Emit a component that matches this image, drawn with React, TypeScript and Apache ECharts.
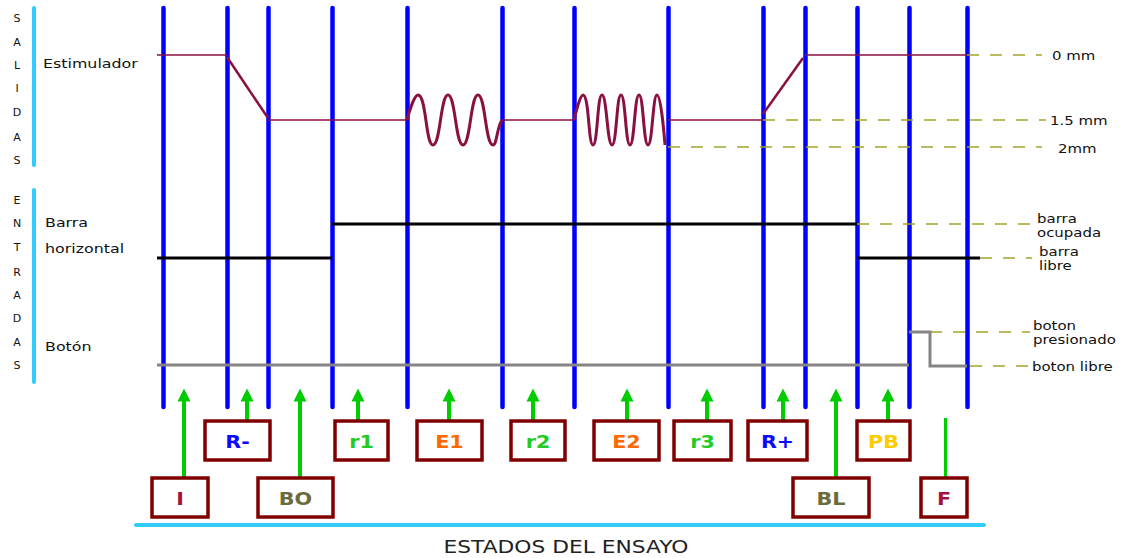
import React, { useEffect, useRef } from "react";
import * as echarts from "echarts";

// ---- data (diagram units = axis units) ----
const stageX = [163, 227, 268, 332, 407, 502, 574, 668, 763, 805, 857, 909, 967];
const stageSpan = [8, 407];

// Estimulador output (0 mm = 55, 1.5 mm = 120, 2 mm = 147)
const stimBase = [
  [[157, 55], [227, 55]],
  [[268, 120], [407, 120]],
  [[502, 120], [574, 120]],
  [[668, 120], [763, 120]],
  [[805, 55], [967, 55]],
];
const stimRamps = [
  [[227, 57], [268, 118]],
  [[763, 114], [803, 58]],
];
const stimE1 = [[407, 120], [418, 95], [433, 145], [448, 95], [463, 145], [478, 95], [493, 145], [500, 124], [502, 120]];
const stimE2 = [[574, 120], [583, 95], [593, 145], [602, 95], [612, 145], [621, 95], [630, 145], [639, 95], [648, 145], [657, 95], [665, 145]];

// Barra horizontal input (ocupada = 224, libre = 258)
const barraSegments = [
  [[157, 258], [332, 258]],
  [[332, 224], [857, 224]],
  [[857, 258], [980, 258]],
];
// Botón input (presionado = 332, libre = 365)
const botonSegments = [
  [[157, 365], [909, 365]],
  [[909, 332], [930, 332], [930, 366], [967, 366]],
];

// dashed reference levels
const refLines = [
  [[967, 55], [1042, 55]],
  [[763, 120], [1046, 120]],
  [[668, 147], [1042, 147]],
  [[857, 224], [1032, 224]],
  [[980, 258], [1032, 258]],
  [[930, 332], [1030, 332]],
  [[970, 366], [1030, 366]],
];
const refLabels = ["0 mm", "1.5 mm", "2mm", "barra\nocupada", "barra\nlibre", "boton\npresionado", "boton libre"];
const refLabelPos = [[1052, 55], [1050, 120], [1058, 148], [1037, 225], [1039, 258], [1033, 332], [1032, 366]];

// cyan brackets
const brackets = [
  [[34, 8], [34, 165]],
  [[34, 190], [34, 382]],
  [[136, 525], [984, 525]],
];

// states of the test
const states = ["I", "R-", "BO", "r1", "E1", "r2", "E2", "r3", "R+", "BL", "PB", "F"];
const stateColors = ["#a3123f", "#0a0aff", "#6b6b3c", "#22cc22", "#ff6a00", "#22cc22", "#ff6a00", "#22cc22", "#0a0aff", "#6b6b3c", "#ffcc00", "#a3123f"];
const stateArrowX = [184, 247, 300, 358, 449, 533, 627, 707, 783, 836, 888, 945];
const stateBoxLeft = [152, 205, 258, 335, 417, 511, 594, 674, 748, 793, 857, 921];
const stateBoxRight = [208, 270, 333, 388, 482, 565, 659, 731, 807, 869, 910, 967];
const stateRow = [1, 0, 1, 0, 0, 0, 0, 0, 0, 1, 0, 1];
const rowTop = [421, 478];
const rowBottom = [460, 517];
const arrowTip = 395;
const stateHasHead = [true, true, true, true, true, true, true, true, true, true, true, false];
const fStemTop = 418;

const salidas = ["S", "A", "L", "I", "D", "A", "S"];
const salidasY = [18, 42, 65, 88, 112, 137, 160];
const entradas = ["E", "N", "T", "R", "A", "D", "A", "S"];
const entradasY = [200, 223, 247, 272, 295, 318, 342, 365];

const FONT = '"DejaVu Sans", "Liberation Sans", Arial, sans-serif';

export default function App() {
  const ref = useRef<HTMLDivElement>(null);
  useEffect(() => {
    if (!ref.current) return;
    const chart = echarts.init(ref.current, undefined, { renderer: "svg" });

    const lineSeries = (name: string, data: number[][], color: string, width: number, smooth: boolean) => ({
      type: "line",
      name,
      data,
      smooth,
      showSymbol: false,
      symbol: "none",
      lineStyle: { color, width, opacity: 1 },
      z: 4,
    });

    const boxData = states.map((s, i) => [
      stateBoxLeft[i],
      rowTop[stateRow[i]],
      stateBoxRight[i],
      rowBottom[stateRow[i]],
    ]);

    const arrows = states
      .map((s, i) => i)
      .filter((i) => stateHasHead[i])
      .map((i) => ({ coords: [[stateArrowX[i], rowTop[stateRow[i]] - 1], [stateArrowX[i], arrowTip]] }));
    const stems = states
      .map((s, i) => i)
      .filter((i) => !stateHasHead[i])
      .map((i) => ({ coords: [[stateArrowX[i], rowTop[stateRow[i]]], [stateArrowX[i], fStemTop]] }));

    const texts: any[] = [];
    salidas.forEach((t, i) =>
      texts.push({ type: "text", x: 17, y: salidasY[i], style: { text: t, font: `11px ${FONT}`, fill: "#111", align: "center", verticalAlign: "middle" } })
    );
    entradas.forEach((t, i) =>
      texts.push({ type: "text", x: 17, y: entradasY[i], style: { text: t, font: `11px ${FONT}`, fill: "#111", align: "center", verticalAlign: "middle" } })
    );
    const leftLabels: [string, number, number][] = [
      ["Estimulador", 43, 64],
      ["Barra", 45, 223],
      ["horizontal", 45, 249],
      ["Botón", 45, 347],
    ];
    leftLabels.forEach(([t, x, y]) =>
      texts.push({ type: "text", x, y, scaleX: 1.22, style: { text: t, font: `13px ${FONT}`, fill: "#111", verticalAlign: "middle" } })
    );
    refLabels.forEach((t, i) =>
      texts.push({
        type: "text",
        x: refLabelPos[i][0],
        y: refLabelPos[i][1],
        scaleX: 1.15,
        style: { text: t, font: `13px ${FONT}`, fill: "#111", verticalAlign: "middle", lineHeight: 14 },
      })
    );
    texts.push({
      type: "text",
      x: 566,
      y: 547,
      scaleX: 1.21,
      style: { text: "ESTADOS DEL ENSAYO", font: `18px ${FONT}`, fill: "#222", align: "center", verticalAlign: "middle" },
    });

    const lw = (color: string, width: number, extra: any = {}) => ({ color, width, opacity: 1, ...extra });

    chart.setOption({
      animation: false,
      grid: { left: 0, right: 0, top: 0, bottom: 0 },
      xAxis: { type: "value", min: 0, max: 1129, show: false },
      yAxis: { type: "value", min: 0, max: 558, inverse: true, show: false },
      series: [
        {
          type: "lines",
          coordinateSystem: "cartesian2d",
          data: brackets.map((c) => ({ coords: c })),
          lineStyle: lw("#33ccff", 4, { cap: "round" }),
          z: 1,
        },
        {
          type: "lines",
          coordinateSystem: "cartesian2d",
          data: stageX.map((x) => ({ coords: [[x, stageSpan[0]], [x, stageSpan[1]]] })),
          lineStyle: lw("#0000ff", 4.5, { cap: "round" }),
          z: 2,
        },
        {
          type: "lines",
          coordinateSystem: "cartesian2d",
          data: refLines.map((c) => ({ coords: c })),
          lineStyle: lw("#a3a32a", 1.5, { type: [12, 11] }),
          z: 3,
        },
        {
          type: "lines",
          coordinateSystem: "cartesian2d",
          polyline: true,
          data: stimBase.map((c) => ({ coords: c })),
          lineStyle: lw("#8a1040", 1.5),
          z: 4,
        },
        {
          type: "lines",
          coordinateSystem: "cartesian2d",
          data: stimRamps.map((c) => ({ coords: c })),
          lineStyle: lw("#8a1040", 2.5),
          z: 4,
        },
        lineSeries("E1", stimE1, "#8a1040", 3, true),
        lineSeries("E2", stimE2, "#8a1040", 3, true),
        {
          type: "lines",
          coordinateSystem: "cartesian2d",
          polyline: true,
          data: barraSegments.map((c) => ({ coords: c })),
          lineStyle: lw("#000000", 3),
          z: 4,
        },
        {
          type: "lines",
          coordinateSystem: "cartesian2d",
          polyline: true,
          data: botonSegments.map((c) => ({ coords: c })),
          lineStyle: lw("#858585", 3),
          z: 4,
        },
        {
          type: "lines",
          coordinateSystem: "cartesian2d",
          data: arrows,
          symbol: ["none", "triangle"],
          symbolSize: 13,
          itemStyle: { color: "#00cc00", opacity: 1 },
          lineStyle: lw("#00cc00", 4),
          z: 5,
        },
        {
          type: "lines",
          coordinateSystem: "cartesian2d",
          data: stems,
          symbol: ["none", "none"],
          lineStyle: lw("#00cc00", 3),
          z: 5,
        },
        {
          type: "custom",
          data: boxData,
          encode: { x: [0, 2], y: [1, 3] },
          z: 6,
          renderItem: (params: any, api: any) => {
            const p0 = api.coord([api.value(0), api.value(1)]);
            const p1 = api.coord([api.value(2), api.value(3)]);
            const i = params.dataIndex;
            const cx = (p0[0] + p1[0]) / 2;
            const cy = (p0[1] + p1[1]) / 2 + 1;
            return {
              type: "group",
              children: [
                {
                  type: "rect",
                  shape: { x: p0[0], y: p0[1], width: p1[0] - p0[0], height: p1[1] - p0[1] },
                  style: { fill: "#ffffff", stroke: "#800000", lineWidth: 3.5 },
                },
                {
                  type: "text",
                  x: cx,
                  y: cy,
                  scaleX: 1.15,
                  style: {
                    text: states[i],
                    x: 0,
                    y: 0,
                    align: "center",
                    verticalAlign: "middle",
                    fill: stateColors[i],
                    font: `bold 18px ${FONT}`,
                  },
                },
              ],
            };
          },
        },
      ],
      graphic: texts,
    });
    return () => chart.dispose();
  }, []);
  return (
    <div
      ref={ref}
      style={{ position: "absolute", left: 0, top: 0, width: 1129, height: 558, background: "#ffffff" }}
    />
  );
}
